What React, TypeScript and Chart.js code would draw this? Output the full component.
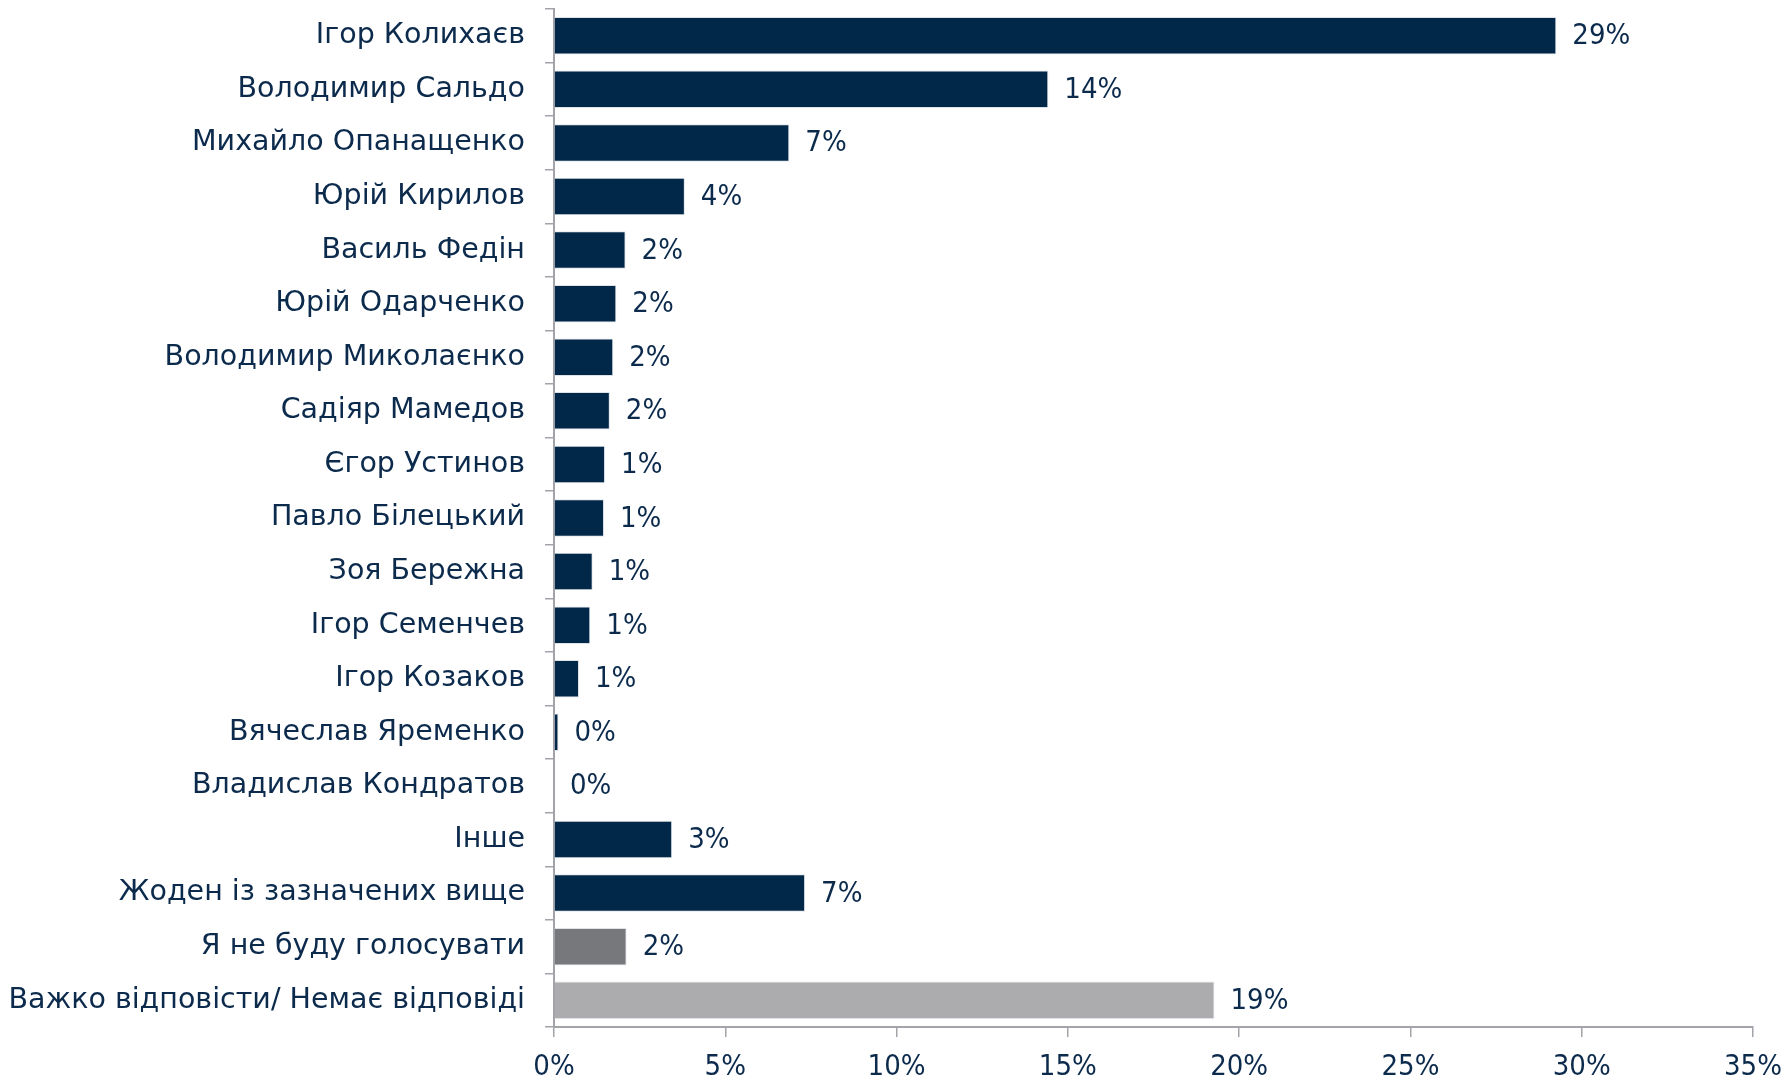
import React, { useEffect, useRef } from "react";
import { Chart, registerables } from "chart.js";

Chart.register(...registerables);

const categories: string[] = [
  "Ігор Колихаєв",
  "Володимир Сальдо",
  "Михайло Опанащенко",
  "Юрій Кирилов",
  "Василь Федін",
  "Юрій Одарченко",
  "Володимир Миколаєнко",
  "Садіяр Мамедов",
  "Єгор Устинов",
  "Павло Білецький",
  "Зоя Бережна",
  "Ігор Семенчев",
  "Ігор Козаков",
  "Вячеслав Яременко",
  "Владислав Кондратов",
  "Інше",
  "Жоден із зазначених вище",
  "Я не буду голосувати",
  "Важко відповісти/ Немає відповіді",
];

const values: number[] = [
  29.26, 14.43, 6.87, 3.82, 2.09, 1.82, 1.73, 1.63, 1.49, 1.46, 1.13, 1.06,
  0.73, 0.13, 0.0, 3.45, 7.33, 2.12, 19.28,
];

const valueLabels: string[] = [
  "29%", "14%", "7%", "4%", "2%", "2%", "2%", "2%", "1%", "1%", "1%", "1%",
  "1%", "0%", "0%", "3%", "7%", "2%", "19%",
];

const barColors: string[] = [
  "#012749", "#012749", "#012749", "#012749", "#012749", "#012749", "#012749",
  "#012749", "#012749", "#012749", "#012749", "#012749", "#012749", "#012749",
  "#012749", "#012749", "#012749", "#77787c", "#acacae",
];

const xTicks: number[] = [0, 5, 10, 15, 20, 25, 30, 35];

const TEXT = "#0b2a4c";
const AXIS = "#a2a4aa";
const LABEL_FONT = "'DejaVu Sans', sans-serif";
const NUM_FONT = "'DejaVu Sans Condensed', 'DejaVu Sans', sans-serif";

const valueLabelPlugin = {
  id: "valueLabels",
  afterDatasetsDraw(chart: any) {
    const ctx = chart.ctx;
    const meta = chart.getDatasetMeta(0);
    ctx.save();
    ctx.font = `29px ${NUM_FONT}`;
    ctx.fillStyle = TEXT;
    ctx.textAlign = "left";
    ctx.textBaseline = "middle";
    meta.data.forEach((bar: any, i: number) => {
      ctx.fillText(valueLabels[i], bar.x + 16, bar.y + 1);
    });
    ctx.restore();
  },
};

export default function App() {
  const ref = useRef<HTMLCanvasElement | null>(null);
  useEffect(() => {
    if (!ref.current) return;
    const chart = new Chart(ref.current, {
      type: "bar",
      data: {
        labels: categories,
        datasets: [
          {
            data: values,
            backgroundColor: barColors,
            borderColor: "#dfe3e8",
            borderWidth: 1,
            barPercentage: 0.7,
            categoryPercentage: 1,
          },
        ],
      },
      options: {
        indexAxis: "y",
        animation: false,
        responsive: true,
        maintainAspectRatio: false,
        layout: { padding: { top: 9, right: 28, bottom: 0, left: 0 } },
        plugins: {
          legend: { display: false },
          tooltip: { enabled: false },
        },
        scales: {
          x: {
            min: 0,
            max: 35,
            afterBuildTicks: (scale: any) => {
              scale.ticks = xTicks.map((v) => ({ value: v }));
            },
            ticks: {
              callback: (v: any) => `${v}%`,
              color: TEXT,
              font: { family: NUM_FONT, size: 29 },
              padding: 13,
              maxRotation: 0,
            },
            grid: {
              drawOnChartArea: false,
              drawTicks: true,
              tickLength: 10,
              color: AXIS,
              lineWidth: 1.5,
            },
            border: { display: true, color: AXIS, width: 2 },
            afterFit: (scale: any) => {
              scale.height = 54;
              scale.paddingLeft = 0;
              scale.paddingRight = 0;
            },
          },
          y: {
            ticks: {
              color: TEXT,
              font: { family: LABEL_FONT, size: 28.5 },
              padding: 20,
              autoSkip: false,
            },
            grid: {
              drawOnChartArea: false,
              drawTicks: true,
              tickLength: 9,
              color: AXIS,
              lineWidth: 1.5,
              offset: true,
            },
            border: { display: true, color: AXIS, width: 2 },
            afterFit: (scale: any) => {
              scale.width = 554;
              scale.paddingTop = 0;
              scale.paddingBottom = 0;
            },
          },
        },
      },
      plugins: [valueLabelPlugin],
    });
    return () => chart.destroy();
  }, []);
  return (
    <div
      style={{
        position: "fixed",
        left: 0,
        top: 0,
        width: 1781,
        height: 1081,
        background: "#ffffff",
      }}
    >
      <canvas ref={ref} />
    </div>
  );
}
